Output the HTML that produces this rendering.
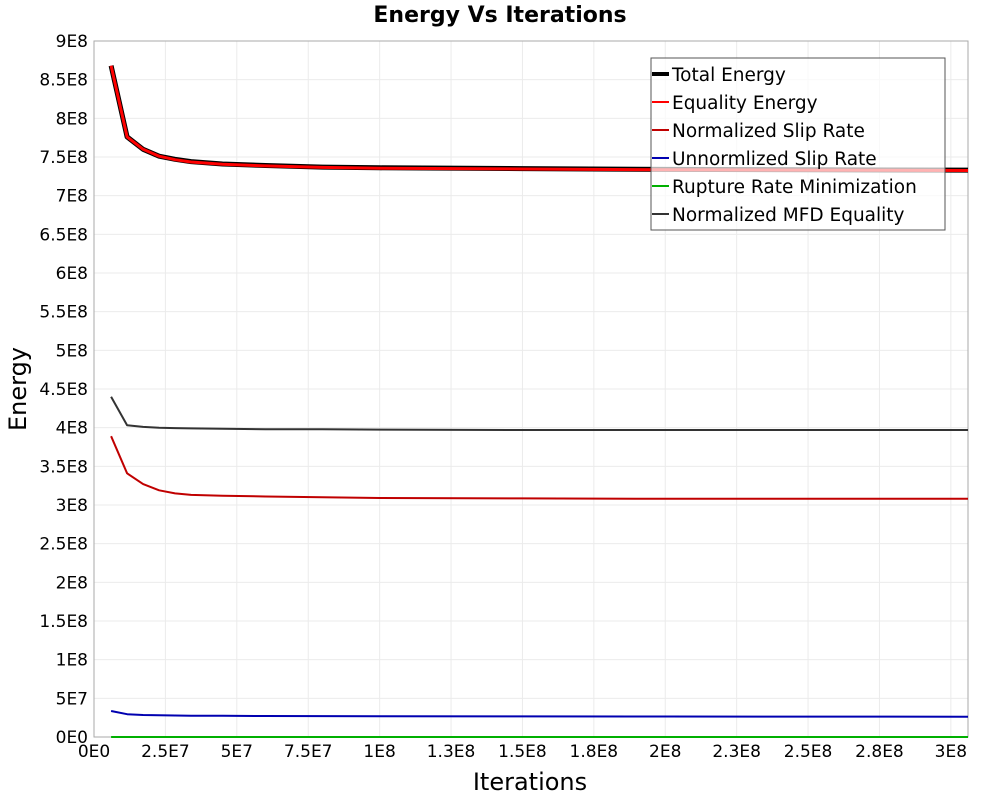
<!DOCTYPE html>
<html><head><meta charset="utf-8"><style>
body{margin:0;background:#fff;}
svg text{font-family:"DejaVu Sans","Liberation Sans",sans-serif;}
</style></head><body>
<svg id="chart" width="1000" height="800" xmlns="http://www.w3.org/2000/svg">
<defs><clipPath id="clip"><rect x="94" y="41" width="874" height="697"/></clipPath></defs>
<text x="500" y="22" text-anchor="middle" font-size="22" font-weight="bold">Energy Vs Iterations</text>
<g id="grid"></g>
<rect x="94" y="41" width="874" height="696" fill="none" stroke="#aaa" stroke-width="1"/>
<g id="yticks"></g>
<g id="xticks"></g>
<g id="series" clip-path="url(#clip)"></g>
<text transform="translate(26,389) rotate(-90)" text-anchor="middle" font-size="24">Energy</text>
<text x="530" y="790" text-anchor="middle" font-size="24">Iterations</text>
<g id="legend"></g>
</svg>
<script>
const iterations=[6e6,11.6e6,17.2e6,22.8e6,28.4e6,34e6,45e6,60e6,80e6,100e6,150e6,200e6,250e6,306e6];
const totalEnergy=[8.68e8,7.76e8,7.60e8,7.51e8,7.47e8,7.44e8,7.41e8,7.39e8,7.37e8,7.36e8,7.35e8,7.34e8,7.335e8,7.33e8];
const equalityEnergy=[8.68e8,7.76e8,7.60e8,7.51e8,7.465e8,7.435e8,7.405e8,7.385e8,7.365e8,7.355e8,7.345e8,7.335e8,7.33e8,7.325e8];
const normSlip=[3.89e8,3.41e8,3.27e8,3.19e8,3.15e8,3.13e8,3.12e8,3.11e8,3.10e8,3.09e8,3.085e8,3.08e8,3.08e8,3.08e8];
const unnormSlip=[3.36e7,2.95e7,2.85e7,2.8e7,2.78e7,2.76e7,2.74e7,2.72e7,2.7e7,2.68e7,2.66e7,2.65e7,2.64e7,2.63e7];
const ruptureRate=[0,0,0,0,0,0,0,0,0,0,0,0,0,0];
const mfdEquality=[4.40e8,4.03e8,4.01e8,4.00e8,3.995e8,3.99e8,3.985e8,3.98e8,3.98e8,3.975e8,3.97e8,3.97e8,3.97e8,3.97e8];
const yTickLabels=["0E0","5E7","1E8","1.5E8","2E8","2.5E8","3E8","3.5E8","4E8","4.5E8","5E8","5.5E8","6E8","6.5E8","7E8","7.5E8","8E8","8.5E8","9E8"];
const xTickLabels=["0E0","2.5E7","5E7","7.5E7","1E8","1.3E8","1.5E8","1.8E8","2E8","2.3E8","2.5E8","2.8E8","3E8"];
const NS="http://www.w3.org/2000/svg";
const X0=94,X1=968,Y0=737,Y1=41,XMAX=3.06e8,YMAX=9e8;
const xs=v=>X0+v/XMAX*(X1-X0);
const ys=v=>Y0-v/YMAX*(Y0-Y1);
function mk(tag,attrs,parent){const e=document.createElementNS(NS,tag);for(const k in attrs)e.setAttribute(k,attrs[k]);parent.appendChild(e);return e;}
const grid=document.getElementById('grid'),yt=document.getElementById('yticks'),xt=document.getElementById('xticks');
yTickLabels.forEach((l,i)=>{const y=ys(i*5e7);
 const g=mk('line',{x1:X0,x2:X1,y1:y,y2:y,stroke:'#ebebeb'},grid);
 
 
 const t=mk('text',{x:88,y:y+6,'text-anchor':'end','font-size':17},yt);t.textContent=l;
 
 
});
xTickLabels.forEach((l,i)=>{const x=xs(i*2.5e7);
 const g=mk('line',{x1:x,x2:x,y1:Y1,y2:Y0,stroke:'#ebebeb'},grid);
 
 
 const t=mk('text',{x:x,y:757,'text-anchor':'middle','font-size':17},xt);t.textContent=l;
 
 
});
const series=[
 {name:'Total Energy',vals:totalEnergy,color:'#000',w:5,id:'total-energy-line'},
 {name:'Equality Energy',vals:equalityEnergy,color:'#ff0000',w:3,id:'equality-energy-line'},
 {name:'Normalized Slip Rate',vals:normSlip,color:'#c00000',w:2,id:'normalized-slip-rate-line'},
 {name:'Unnormlized Slip Rate',vals:unnormSlip,color:'#0000b0',w:2,id:'unnormalized-slip-rate-line'},
 {name:'Rupture Rate Minimization',vals:ruptureRate,color:'#00b000',w:2,id:'rupture-rate-line'},
 {name:'Normalized MFD Equality',vals:mfdEquality,color:'#333',w:2,id:'mfd-equality-line'}];
const sg=document.getElementById('series');
series.forEach(s=>{const pts=s.vals.map((v,i)=>xs(iterations[i]).toFixed(1)+','+ys(v).toFixed(1)).join(' ');
 const p=mk('polyline',{points:pts,fill:'none',stroke:s.color,'stroke-width':s.w,'stroke-linejoin':'round'},sg);
 
 
});
const lg=document.getElementById('legend');
const box=mk('rect',{x:651,y:58,width:294,height:172,fill:'rgba(255,255,255,0.7)',stroke:'#555','stroke-width':1},lg);


series.forEach((s,i)=>{const y=74+i*28;
 const l=mk('line',{x1:652,x2:669,y1:y,y2:y,stroke:s.color,'stroke-width':s.w==5?4:2},lg);
 
 
 const t=mk('text',{x:672,y:y+7,'font-size':18.5},lg);t.textContent=s.name;
 
 
});
</script>
</body></html>
